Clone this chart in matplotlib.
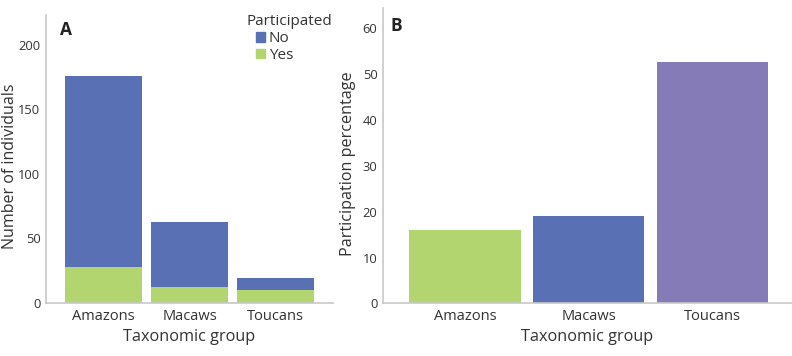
import matplotlib
matplotlib.use("Agg")
import matplotlib.pyplot as plt
from matplotlib.patches import Patch

plt.rcParams['font.family'] = ['Open Sans', 'DejaVu Sans']

groups = ["Amazons", "Macaws", "Toucans"]
yes_counts = [28, 12, 10]
no_counts = [148, 51, 9]
participation_pct = [15.9, 19.0, 52.6]

blue = "#5a70b5"
green = "#b3d56f"
purple = "#857bb7"
spine_c = "#c8c8c8"
text_c = "#333333"

fig = plt.figure(figsize=(7.92, 3.56), dpi=100)
axA = fig.add_axes([0.0581, 0.1489, 0.3624, 0.809])
axB = fig.add_axes([0.4836, 0.148, 0.516, 0.8287])

x = range(len(groups))
axA.bar(x, yes_counts, width=0.9, color=green, label="Yes")
axA.bar(x, no_counts, width=0.9, bottom=yes_counts, color=blue, label="No")
axA.set_xlim(-0.67, 2.67)
axA.set_ylim(0, 223)
axA.set_yticks([0, 50, 100, 150, 200])
axA.set_xticks(list(x))
axA.set_xticklabels(groups)
axA.set_ylabel("Number of individuals", fontsize=11.5, color=text_c)
axA.yaxis.set_label_coords(-0.097, 0.476)
axA.set_xlabel("Taxonomic group", fontsize=11.7, color=text_c, labelpad=4)
axA.text(0.05, 0.98, "A", transform=axA.transAxes, fontsize=12.5, fontweight="bold",
         va="top", ha="left", color="#222222")
axA.text(0.70, 0.979, "Participated", transform=axA.transAxes, fontsize=11,
         va="center", ha="left", color=text_c)
handles = [Patch(color=blue, label="No"), Patch(color=green, label="Yes")]
leg = axA.legend(handles=handles, loc="upper left",
                 bbox_to_anchor=(0.73, 0.943), frameon=False, fontsize=11,
                 handlelength=0.6, handleheight=0.6,
                 handletextpad=0.25, labelspacing=0.1, borderpad=0.0,
                 borderaxespad=0.0)
for t in leg.get_texts():
    t.set_color(text_c)

axB.bar(x, participation_pct, width=0.9, color=[green, blue, purple])
axB.set_xlim(-0.663, 2.64)
axB.set_ylim(0, 64.4)
axB.set_yticks([0, 10, 20, 30, 40, 50, 60])
axB.set_xticks(list(x))
axB.set_xticklabels(groups)
axB.set_ylabel("Participation percentage", fontsize=11.6, color=text_c)
axB.yaxis.set_label_coords(-0.066, 0.472)
axB.set_xlabel("Taxonomic group", fontsize=11.7, color=text_c, labelpad=4)
axB.text(0.018, 0.972, "B", transform=axB.transAxes, fontsize=12.5, fontweight="bold",
         va="top", ha="left", color="#222222")

for ax in (axA, axB):
    for s in ("top", "right"):
        ax.spines[s].set_visible(False)
    for s in ("left", "bottom"):
        ax.spines[s].set_color(spine_c)
        ax.spines[s].set_linewidth(1.2)
    ax.tick_params(length=0, labelsize=9.3, labelcolor=text_c, pad=4)
    ax.tick_params(axis="x", labelsize=10.5, pad=4)

fig.savefig("out.png", dpi=100)
